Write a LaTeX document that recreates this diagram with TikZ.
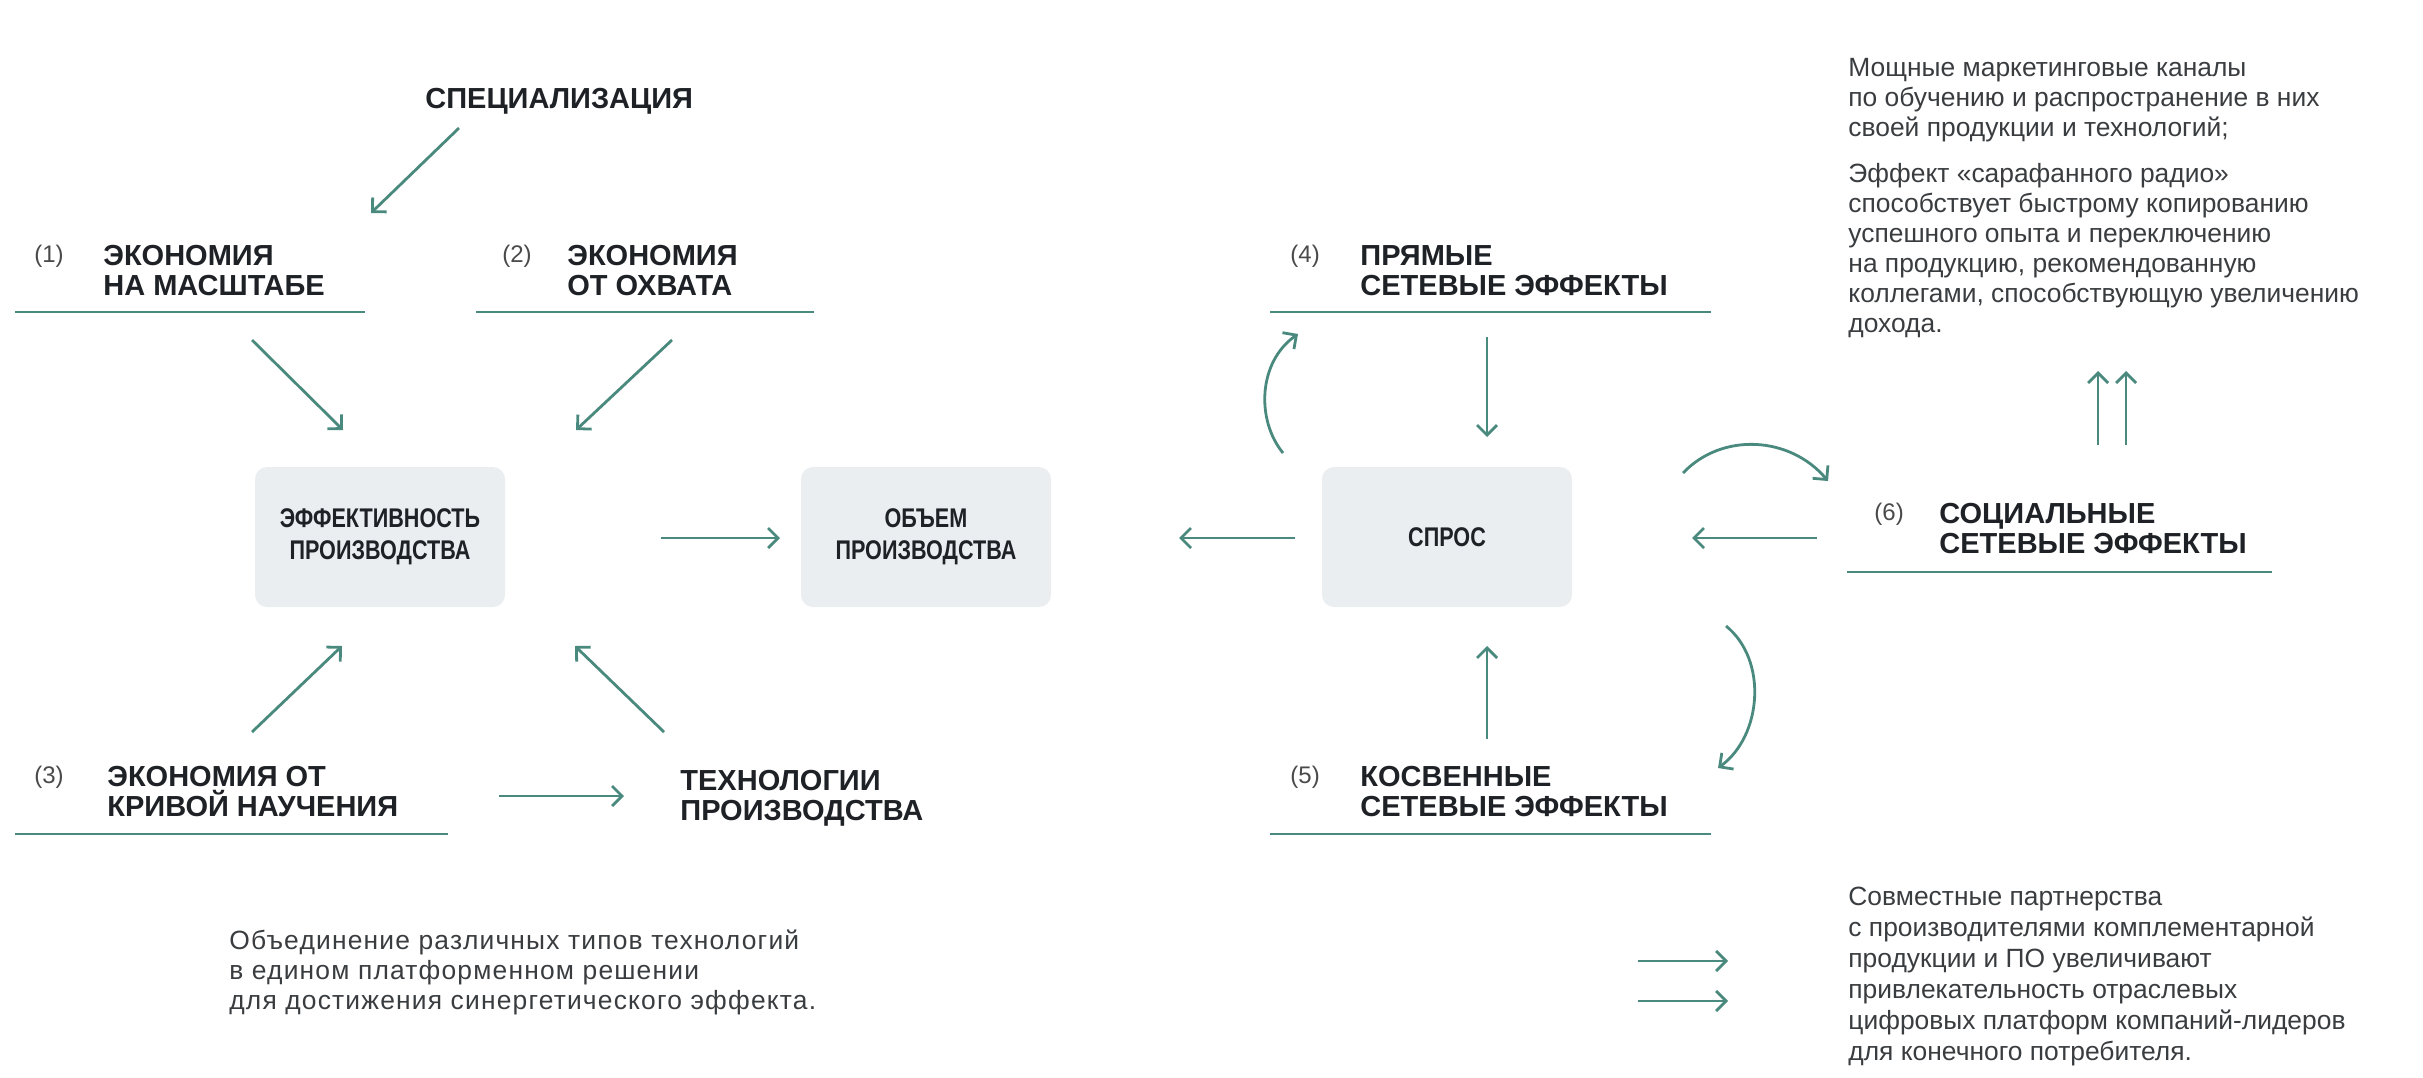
\documentclass[tikz,border=0pt]{standalone}
\usepackage{fontspec}
\setmainfont{Liberation Sans}
\newfontfamily\blockfont{Liberation Sans}[FakeStretch=0.8]
\newfontfamily\widefont{Liberation Sans}[LetterSpace=4.5]
\usetikzlibrary{arrows.meta}

\definecolor{linkteal}{HTML}{4A8A7E}
\definecolor{boxgray}{HTML}{EBEEF0}
\definecolor{ink}{HTML}{1E2125}
\definecolor{notegray}{HTML}{3A3D40}
\definecolor{numgray}{HTML}{4A4A4A}

\begin{document}
\begin{tikzpicture}[x=0.5pt,y=-0.5pt,
  link/.style={draw=linkteal, line width=1.4pt,
    -{Straight Barb[length=5pt,width=10pt]}},
  rule/.style={draw=linkteal, line width=1.2pt},
  title/.style={font=\bfseries\fontsize{14.5}{15}\selectfont, text=ink,
    align=left, inner sep=0pt, anchor=base west},
  num/.style={font=\fontsize{12}{14}\selectfont, text=numgray,
    inner sep=0pt, anchor=base west},
  block/.style={fill=boxgray, rounded corners=6pt, minimum width=125pt,
    minimum height=70pt, inner sep=0pt, align=center, text=ink,
    font=\blockfont\bfseries\fontsize{13.5}{16}\selectfont},
  note/.style={font=\fontsize{13.2}{15}\selectfont, text=notegray,
    align=left, inner sep=0pt, anchor=base west}]
\useasboundingbox (0,0) rectangle (2423,1077);

% central blocks
\node[block] (eff) at (380,537) {ЭФФЕКТИВНОСТЬ\\ПРОИЗВОДСТВА};
\node[block] (vol) at (926,537) {ОБЪЕМ\\ПРОИЗВОДСТВА};
\node[block] (dem) at (1447,537) {СПРОС};

% labels (anchored at the baseline of their last line)
\node[title] (spec) at (425,108) {СПЕЦИАЛИЗАЦИЯ};
\node[num] (n1) at (34,262) {(1)};
\node[title] (scale) at (103,295) {ЭКОНОМИЯ\\НА МАСШТАБЕ};
\node[num] (n2) at (502,262) {(2)};
\node[title] (scope) at (567,295) {ЭКОНОМИЯ\\ОТ ОХВАТА};
\node[num] (n3) at (34,783) {(3)};
\node[title] (learn) at (107,816) {ЭКОНОМИЯ ОТ\\КРИВОЙ НАУЧЕНИЯ};
\node[title] (tech) at (680,820) {ТЕХНОЛОГИИ\\ПРОИЗВОДСТВА};
\node[num] (n4) at (1290,262) {(4)};
\node[title] (direct) at (1360,295) {ПРЯМЫЕ\\СЕТЕВЫЕ ЭФФЕКТЫ};
\node[num] (n5) at (1290,783) {(5)};
\node[title] (indirect) at (1360,816) {КОСВЕННЫЕ\\СЕТЕВЫЕ ЭФФЕКТЫ};
\node[num] (n6) at (1874,520) {(6)};
\node[title] (social) at (1939,553) {СОЦИАЛЬНЫЕ\\СЕТЕВЫЕ ЭФФЕКТЫ};

% underlines
\draw[rule] (15,312) -- (365,312);
\draw[rule] (476,312) -- (814,312);
\draw[rule] (15,834) -- (448,834);
\draw[rule] (1270,312) -- (1711,312);
\draw[rule] (1270,834) -- (1711,834);
\draw[rule] (1847,572) -- (2272,572);

% explanatory notes (anchored at the baseline of their last line)
\node[note] (mkt) at (1848,136) {Мощные маркетинговые каналы\\по обучению и распространение в них\\своей продукции и технологий;};
\node[note] (radio) at (1848,332) {Эффект «сарафанного радио»\\способствует быстрому копированию\\успешного опыта и переключению\\на продукцию, рекомендованную\\коллегами, способствующую увеличению\\дохода.};
\node[note, font=\widefont\fontsize{13.2}{15}\selectfont] (merge) at (229,1009) {Объединение различных типов технологий\\в едином платформенном решении\\для достижения синергетического эффекта.};
\node[note, font=\fontsize{13.2}{15.5}\selectfont] (partner) at (1848,1060) {Совместные партнерства\\с производителями комплементарной\\продукции и ПО увеличивают\\привлекательность отраслевых\\цифровых платформ компаний-лидеров\\для конечного потребителя.};

% arrow end points
\coordinate (specA) at (459,128);  \coordinate (specB) at (371,213);
\coordinate (scaleA) at (252,340); \coordinate (scaleB) at (343,430);
\coordinate (scopeA) at (672,340); \coordinate (scopeB) at (576,430);
\coordinate (learnA) at (252,732); \coordinate (learnB) at (342,646);
\coordinate (techA) at (664,732);  \coordinate (techB) at (575,646);
\coordinate (ltA) at (499,796);    \coordinate (ltB) at (624,796);
\coordinate (evA) at (661,538);    \coordinate (evB) at (780,538);
\coordinate (dvA) at (1295,538);   \coordinate (dvB) at (1179,538);
\coordinate (sdA) at (1817,538);   \coordinate (sdB) at (1692,538);
\coordinate (ddA) at (1487,337);   \coordinate (ddB) at (1487,437);
\coordinate (idA) at (1487,739);   \coordinate (idB) at (1487,646);
\coordinate (loopA) at (1283,453); \coordinate (loopB) at (1298,334);
\coordinate (loopC) at (1683,473); \coordinate (loopD) at (1828,481);
\coordinate (loopE) at (1726,626); \coordinate (loopF) at (1718,768);
\coordinate (upA1) at (2098,445);  \coordinate (upB1) at (2098,371);
\coordinate (upA2) at (2126,445);  \coordinate (upB2) at (2126,371);
\coordinate (rA1) at (1638,961);   \coordinate (rB1) at (1728,961);
\coordinate (rA2) at (1638,1001);  \coordinate (rB2) at (1728,1001);

% connectors
\draw[link] (specA) -- (specB);
\draw[link] (scaleA) -- (scaleB);
\draw[link] (scopeA) -- (scopeB);
\draw[link] (learnA) -- (learnB);
\draw[link] (techA) -- (techB);
\draw[link] (ltA) -- (ltB);
\draw[link] (evA) -- (evB);
\draw[link] (dvA) -- (dvB);
\draw[link] (sdA) -- (sdB);
\draw[link] (ddA) -- (ddB);
\draw[link] (idA) -- (idB);
\draw[link] (loopA) .. controls (1256,420) and (1258,362) .. (loopB);
\draw[link] (loopC) .. controls (1722,432) and (1790,436) .. (loopD);
\draw[link] (loopE) .. controls (1768,660) and (1762,736) .. (loopF);
\draw[link] (upA1) -- (upB1);
\draw[link] (upA2) -- (upB2);
\draw[link] (rA1) -- (rB1);
\draw[link] (rA2) -- (rB2);
\end{tikzpicture}
\end{document}
